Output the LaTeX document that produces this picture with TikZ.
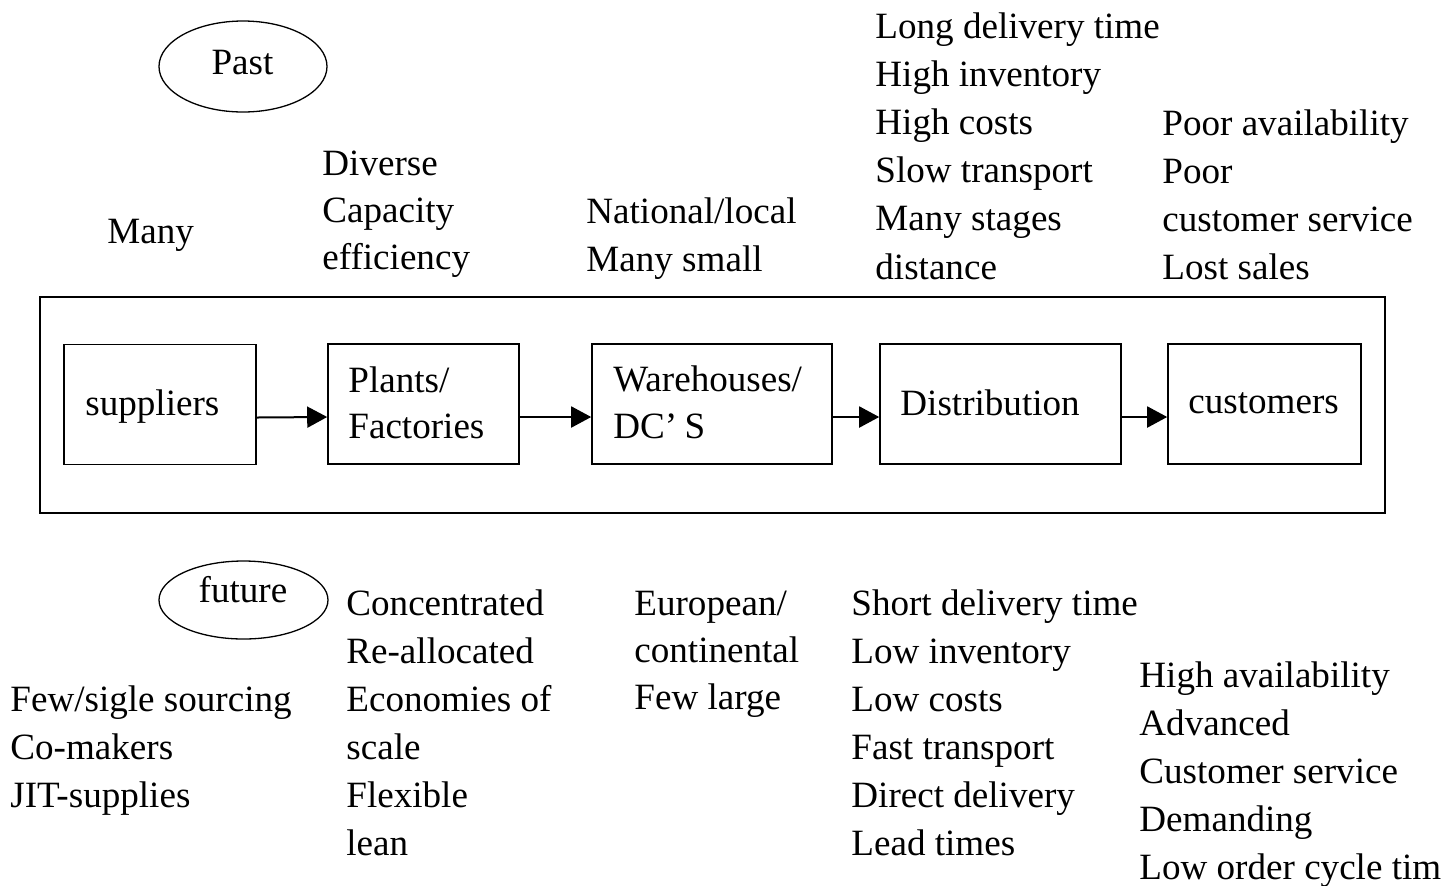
\documentclass[tikz,border=0pt]{standalone}
\usepackage{fontspec}
\setmainfont{Liberation Serif}
\usetikzlibrary{arrows.meta,shapes.geometric}
\newcommand\txtblock[5]{%
  \foreach \t [count=\i] in {#5}{\node[txt] (#1\i) at (#2,{#3+#4*(\i-1)}) {\t};}}
\begin{document}
\begin{tikzpicture}[x=0.5pt,y=-0.5pt,
  txt/.style={anchor=base west,inner sep=0pt,font=\fontsize{18.55pt}{24pt}\selectfont},
  ctxt/.style={txt,anchor=base},
  stage/.style={draw,line width=0.8pt,inner sep=0pt,minimum height=60pt},
  frame/.style={draw,line width=0.8pt,inner sep=0pt},
  oval/.style={draw,ellipse,line width=0.65pt,inner sep=0pt},
  flow/.style={line width=1pt,-{Triangle[length=10pt,width=10.5pt]}}]
\useasboundingbox (0,0) rectangle (1455,885);
\clip (0,0) rectangle (1455,885);

% outer frame
\node[frame,minimum width=672.5pt,minimum height=108pt] (chain) at (712.5,405) {};

% stage boxes
\node[stage,minimum width=96pt]   (sup) at (160,404.5) {};
\node[stage,minimum width=95.5pt] (pla) at (423.5,404) {};
\node[stage,minimum width=120pt]  (war) at (712,404) {};
\node[stage,minimum width=120.5pt](dis) at (1000.5,404) {};
\node[stage,minimum width=96.5pt] (cus) at (1264.5,404) {};

\node[txt] (supT)  at (85,415)  {suppliers};
\node[txt] (plaT1) at (348,392) {Plants/};
\node[txt] (plaT2) at (348,438) {Factories};
\node[txt] (warT1) at (613,391) {Warehouses/};
\node[txt] (warT2) at (613,438) {DC’\kern-1pt{} S};
\node[txt] (disT)  at (900,415) {Distribution};
\node[txt] (cusT)  at (1188,413) {customers};

% arrows
\draw[flow] ([yshift=-6.5pt]sup.east) -- ([yshift=-6.5pt]pla.west);
\draw[flow] ([yshift=-6.5pt]pla.east) -- ([yshift=-6.5pt]war.west);
\draw[flow] ([yshift=-6.5pt]war.east) -- ([yshift=-6.5pt]dis.west);
\draw[flow] ([yshift=-6.5pt]dis.east) -- ([yshift=-6.5pt]cus.west);

% ovals
\node[oval,minimum width=84pt,minimum height=45.5pt] (past) at (243,66.5) {};
\node[ctxt] (pastT) at (242.5,74) {Past};
\node[oval,minimum width=84.5pt,minimum height=39pt] (fut) at (243.5,600) {};
\node[ctxt] (futT) at (243,602) {future};

% past texts
\node[txt] (pS1) at (107,243) {Many};
\txtblock{pP}{322}{175}{47}{Diverse,Capacity,efficiency}
\txtblock{pW}{586}{223}{48}{National/local,Many small}
\txtblock{pD}{875}{38}{48.2}{Long delivery time,High inventory,High costs,Slow transport,Many stages,distance}
\txtblock{pC}{1162}{135}{48}{Poor availability,Poor,customer service,Lost sales}

% future texts
\txtblock{fS}{10}{711}{48}{Few/sigle sourcing,Co-makers,JIT-supplies}
\txtblock{fP}{346}{615}{48}{Concentrated,Re-allocated,Economies of,scale,Flexible,lean}
\txtblock{fW}{634}{615}{47}{European/,continental,Few large}
\txtblock{fD}{851}{615}{48}{Short delivery time,Low inventory,Low costs,Fast transport,Direct delivery,Lead times}
\txtblock{fC}{1139}{687}{48}{High availability,Advanced,Customer service,Demanding,Low order cycle tim}
\end{tikzpicture}
\end{document}
